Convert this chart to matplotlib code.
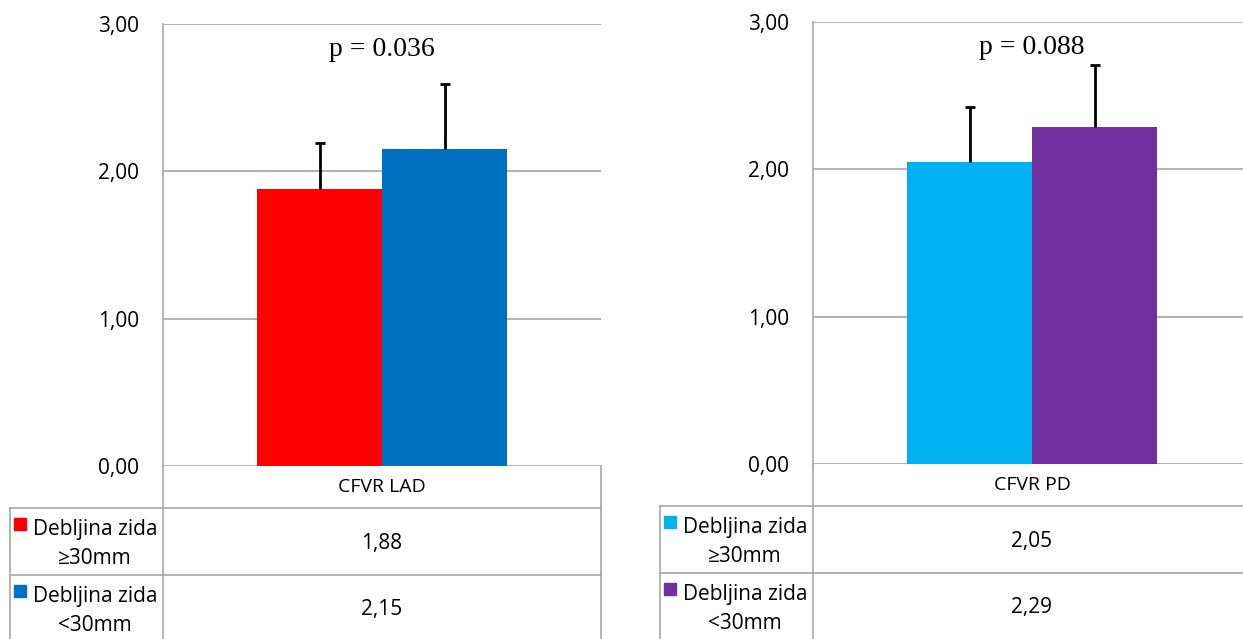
import matplotlib.pyplot as plt
import matplotlib.lines as mlines

plt.rcParams['font.family'] = ['Open Sans', 'DejaVu Sans']

# podaci
kategorije = ["CFVR LAD", "CFVR PD"]
grupe = ["Debljina zida\n≥30mm", "Debljina zida\n<30mm"]
vrijednosti_lad = [1.88, 2.15]
greske_lad = [0.31, 0.44]
vrijednosti_pd = [2.05, 2.29]
greske_pd = [0.37, 0.42]
p_vrijednosti = ["p = 0.036", "p = 0.088"]
boje_lad = ["#FF0000", "#0070C0"]
boje_pd = ["#00B0F0", "#7030A0"]
yticks = [0, 1, 2, 3]

W, H = 1243, 639
fig = plt.figure(figsize=(W / 100, H / 100), dpi=100)
siva = "#A6A6A6"


def px(x, y):
    return x / W, 1 - y / H


def panel(x0, x1, ytop, ybot, kat, vals, errs, boje, pval, xleg):
    l, b = px(x0, ybot)
    ax = fig.add_axes([l, b, (x1 - x0) / W, (ybot - ytop) / H])
    bw = 125 / (x1 - x0)
    pos = [-bw / 2, bw / 2]
    ax.bar(pos, vals, width=bw, color=boje, zorder=3)
    gornje = [v + e for v, e in zip(vals, errs)]
    ax.vlines(pos, vals, gornje, color="black", linewidth=2, zorder=4)
    cw = 5 / (x1 - x0)
    ax.hlines(gornje, [p - cw for p in pos], [p + cw for p in pos],
              color="black", linewidth=2, zorder=4)
    ax.set_xlim(-0.5, 0.5)
    ax.set_ylim(0, 3)
    ax.set_yticks(yticks)
    ax.set_yticklabels([f"{t:.2f}".replace(".", ",") for t in yticks], fontsize=15)
    ax.tick_params(axis="y", length=0, pad=17)
    ax.set_xticks([])
    ax.grid(axis="y", color=siva, linewidth=1.2, zorder=0)
    for s in ["top", "right", "bottom"]:
        ax.spines[s].set_visible(False)
    ax.spines["left"].set_color(siva)
    ax.spines["left"].set_linewidth(1.2)
    ax.text(0, 2.83, pval, ha="center", va="center", fontsize=20,
            family="Liberation Serif")

    # tablica ispod grafa
    hdr = ybot + 42
    r1 = hdr + 67
    linije = [
        ((x0, x0), (ybot, H + 5)),
        ((x1, x1), (ybot, H + 5)),
        ((xleg, xleg), (hdr, H + 5)),
        ((xleg, x1), (hdr, hdr)),
        ((xleg, x1), (r1, r1)),
    ]
    for xs, ys in linije:
        fx = [x / W for x in xs]
        fy = [1 - y / H for y in ys]
        fig.add_artist(mlines.Line2D(fx, fy, color=siva, linewidth=1.2))
    xc = (x0 + x1) / 2
    fig.text(*px(xc, ybot + 21), kat, ha="center", va="center", fontsize=14)
    for i, (v, g, c) in enumerate(zip(vals, grupe, boje)):
        yc = hdr + 35 + i * 67
        fig.text(*px(xc, yc), f"{v:.2f}".replace(".", ","), ha="center",
                 va="center", fontsize=15)
        fig.text(*px(xleg + 85, yc + 1), g, ha="center", va="center",
                 fontsize=15, linespacing=1.55)
        fig.add_artist(mlines.Line2D([(xleg + 10) / W], [1 - (yc - 19) / H],
                                     marker="s", markersize=9, color=c,
                                     linestyle="none"))
    return ax


panel(163, 601, 24, 466, kategorije[0], vrijednosti_lad, greske_lad,
      boje_lad, p_vrijednosti[0], 10)
panel(813, 1251, 22, 464, kategorije[1], vrijednosti_pd, greske_pd,
      boje_pd, p_vrijednosti[1], 660)

fig.savefig("out.png", dpi=100)
